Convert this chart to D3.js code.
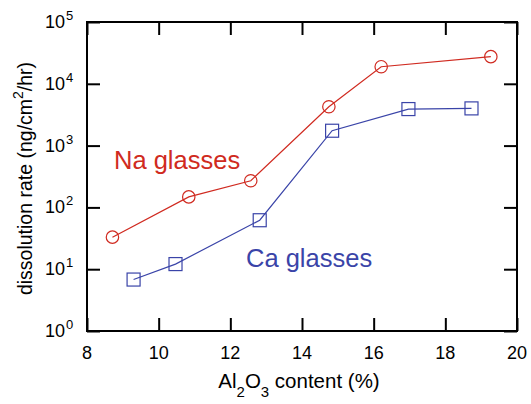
<!DOCTYPE html>
<html><head><meta charset="utf-8">
<script src="https://cdn.jsdelivr.net/npm/d3@7"></script>
<style>body{margin:0;background:#fff}svg{display:block}text{font-family:"Liberation Sans",Arial,Helvetica,sans-serif}</style>
</head><body>
<svg id="chart" width="531" height="404"></svg>
<script>
const naX = [8.71, 10.84, 12.57, 14.75, 16.21, 19.27];
const naY = [33, 148, 270, 4250, 18900, 27500];
const caX = [9.30, 10.47, 12.82, 14.84, 16.97, 18.73];
const caY = [6.8, 12.1, 62, 1740, 3900, 4000];
const xTicks = [8, 10, 12, 14, 16, 18, 20];
const yExps = [0, 1, 2, 3, 4, 5];

const svg = d3.select("#chart");
const L = 87, R = 517, T = 22, B = 331;
const x = d3.scaleLinear().domain([8, 20]).range([L, R]);
const y = d3.scaleLog().domain([1, 1e5]).range([B, T]);
const red = "#d02a20", blue = "#3a44a8";

// frame
svg.append("rect").attr("x", L).attr("y", T).attr("width", R - L).attr("height", B - T)
  .attr("fill", "none").attr("stroke", "#000").attr("stroke-width", 2);

const tl = 13;
svg.append("g").attr("transform", `translate(0,${B})`)
  .call(d3.axisBottom(x).tickValues(xTicks).tickSize(-tl).tickFormat(""))
  .call(g => { g.select(".domain").remove(); g.selectAll("line").attr("stroke-width", 2); });
svg.append("g").attr("transform", `translate(0,${T})`)
  .call(d3.axisTop(x).tickValues(xTicks).tickSize(-tl).tickFormat(""))
  .call(g => { g.select(".domain").remove(); g.selectAll("line").attr("stroke-width", 2); });
const yTickVals = yExps.map(e => Math.pow(10, e));
svg.append("g").attr("transform", `translate(${L},0)`)
  .call(d3.axisLeft(y).tickValues(yTickVals).tickSize(-tl).tickFormat(""))
  .call(g => { g.select(".domain").remove(); g.selectAll("line").attr("stroke-width", 2); });
svg.append("g").attr("transform", `translate(${R},0)`)
  .call(d3.axisRight(y).tickValues(yTickVals).tickSize(-tl).tickFormat(""))
  .call(g => { g.select(".domain").remove(); g.selectAll("line").attr("stroke-width", 2); });

// x tick labels
svg.append("g").selectAll("text").data(xTicks).join("text")
  .attr("x", d => x(d)).attr("y", 359).attr("text-anchor", "middle")
  .attr("font-size", 18).text(d => d);

// y tick labels 10^n
const yl = svg.append("g").selectAll("text").data(yExps).join("text")
  .attr("x", 65).attr("y", d => y(Math.pow(10, d)) + 6).attr("font-size", 18).attr("text-anchor", "end");
yl.append("tspan").text("10");
yl.append("tspan").attr("x", 66).attr("dy", -8).attr("font-size", 13).attr("text-anchor", "start").text(d => d);

// y axis label
const ylab = svg.append("text").attr("transform", `translate(32,${(T + B) / 2 + 2}) rotate(-90)`)
  .attr("text-anchor", "middle").attr("font-size", 19.5);
ylab.append("tspan").text("dissolution rate (ng/cm");
ylab.append("tspan").attr("dy", -9).attr("font-size", 14).text("2");
ylab.append("tspan").attr("dy", 9).text("/hr)");

// x axis label
const xlab = svg.append("text").attr("x", 299).attr("y", 388).attr("text-anchor", "middle").attr("font-size", 20.5);
xlab.append("tspan").text("Al");
xlab.append("tspan").attr("dy", 9).attr("font-size", 15).text("2");
xlab.append("tspan").attr("dy", -9).text("O");
xlab.append("tspan").attr("dy", 9).attr("font-size", 15).text("3");
xlab.append("tspan").attr("dy", -9).text(" content (%)");

// series
const na = naX.map((v, i) => [v, naY[i]]);
const ca = caX.map((v, i) => [v, caY[i]]);
const line = d3.line().x(d => x(d[0])).y(d => y(d[1]));
svg.append("path").attr("d", line(na)).attr("fill", "none").attr("stroke", red).attr("stroke-width", 1.2);
svg.append("path").attr("d", line(ca)).attr("fill", "none").attr("stroke", blue).attr("stroke-width", 1.2);
svg.append("g").selectAll("circle").data(na).join("circle")
  .attr("cx", d => x(d[0])).attr("cy", d => y(d[1])).attr("r", 6.2)
  .attr("fill", "none").attr("stroke", red).attr("stroke-width", 1.2);
const s = 13;
svg.append("g").selectAll("rect").data(ca).join("rect")
  .attr("x", d => x(d[0]) - s / 2).attr("y", d => y(d[1]) - s / 2).attr("width", s).attr("height", s)
  .attr("fill", "none").attr("stroke", blue).attr("stroke-width", 1.2);

// labels
svg.append("text").attr("x", 114).attr("y", 169).attr("font-size", 25.5).attr("fill", red).text("Na glasses");
svg.append("text").attr("x", 246).attr("y", 267).attr("font-size", 25.5).attr("fill", blue).text("Ca glasses");
</script>
</body></html>
